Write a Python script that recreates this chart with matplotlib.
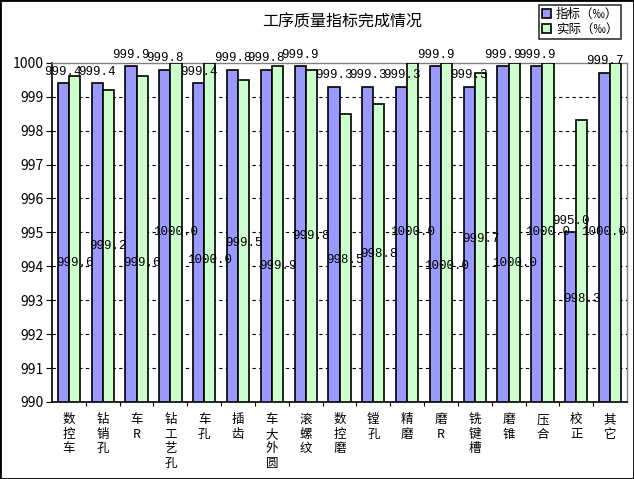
import matplotlib
matplotlib.use('Agg')
import matplotlib.pyplot as plt
import numpy as np
from matplotlib.patches import Rectangle

plt.rcParams['font.family'] = ['Noto Sans CJK SC', 'DejaVu Sans']

# data
categories = ['数控车', '钻销孔', '车R', '钻工艺孔', '车孔', '插齿', '车大外圆', '滚螺纹',
              '数控磨', '镗孔', '精磨', '磨R', '铣键槽', '磨锥', '压合', '校正', '其它']
target = [999.4, 999.4, 999.9, 999.8, 999.4, 999.8, 999.8, 999.9,
          999.3, 999.3, 999.3, 999.9, 999.3, 999.9, 999.9, 995.0, 999.7]
actual = [999.6, 999.2, 999.6, 1000.0, 1000.0, 999.5, 999.9, 999.8,
          998.5, 998.8, 1000.0, 1000.0, 999.7, 1000.0, 1000.0, 998.3, 1000.0]
# where the reference puts the green value labels (y, in axis units)
actual_label_y = [994.1, 994.6, 994.1, 995.0, 994.2, 994.7, 994.0, 994.9,
                  994.2, 994.35, 995.0, 994.0, 994.8, 994.1, 995.0, 993.05, 995.0]

fig = plt.figure(figsize=(6.34, 4.79), dpi=100)
ax = fig.add_axes([0.082, 0.1608, 0.907, 0.708])

x = np.arange(len(categories))
w = 0.33
base = 990
ax.bar(x - w / 2, np.array(target) - base, w, bottom=base, color='#9999FF',
       edgecolor='black', linewidth=1.2, zorder=3, label='指标（‰）')
ax.bar(x + w / 2, np.array(actual) - base, w, bottom=base, color='#CCFFCC',
       edgecolor='black', linewidth=1.2, zorder=3, label='实际（‰）')

lab_font = dict(family='Liberation Mono', fontsize=9, zorder=5)
labels = []
for xi, v in zip(x, target):
    labels.append(ax.annotate('%.1f' % v, (xi - w / 2, v), xytext=(0, 8.3),
                              textcoords='offset points', ha='center', va='center',
                              **lab_font))
for xi, v, ly in zip(x, actual, actual_label_y):
    labels.append(ax.text(xi + w / 2, ly, '%.1f' % v, ha='center', va='center', **lab_font))

ax.set_xlim(-0.5, len(categories) - 0.5)
ax.set_ylim(990, 1000)
ax.set_yticks(range(990, 1001))
ax.set_yticklabels([str(t) for t in range(990, 1001)], fontsize=10)
for t in range(991, 1000):
    ax.axhline(t, color='black', linewidth=0.8, linestyle=(0, (3, 3)), zorder=1)

ax.set_xticks(x)
ax.set_xticklabels(['\n'.join(c) for c in categories], fontsize=9, linespacing=1.15)
ax.set_xticks(x[:-1] + 0.5, minor=True)
ax.tick_params(axis='x', which='major', length=0, pad=8)
ax.tick_params(axis='x', which='minor', length=3, direction='out', width=0.8)
ax.tick_params(axis='y', length=4, direction='out', width=0.8, pad=2)

ax.spines['left'].set_color('black')
ax.spines['bottom'].set_color('black')
ax.spines['left'].set_linewidth(1.2)
ax.spines['bottom'].set_linewidth(1.2)
for s in ('top', 'right'):
    ax.spines[s].set_color('#808080')
    ax.spines[s].set_linewidth(1.0)

fig.text(0.539, 0.955, '工序质量指标完成情况', ha='center', va='center', fontsize=11.5)

leg = fig.legend(loc='upper right', bbox_to_anchor=(0.98, 0.99), fontsize=9,
                 frameon=True, fancybox=False, edgecolor='black', handlelength=0.7,
                 handleheight=0.7, handletextpad=0.4, borderpad=0.25, labelspacing=0.15,
                 borderaxespad=0)
leg.get_frame().set_linewidth(1.2)

# keep value labels inside the plot area, as the spreadsheet does
fig.canvas.draw()
renderer = fig.canvas.get_renderer()
ax_right = ax.get_window_extent(renderer).x1
for t in labels:
    bb = t.get_window_extent(renderer)
    if bb.x1 > ax_right:
        shift = (bb.x1 - ax_right + 1) * 72 / fig.dpi
        t.set_transform(t.get_transform() + matplotlib.transforms.ScaledTranslation(
            -shift / 72, 0, fig.dpi_scale_trans))

fig.patches.append(Rectangle((0, 0), 1, 1, transform=fig.transFigure, fill=False,
                             edgecolor='black', linewidth=2))

fig.savefig('out.png', dpi=100)
